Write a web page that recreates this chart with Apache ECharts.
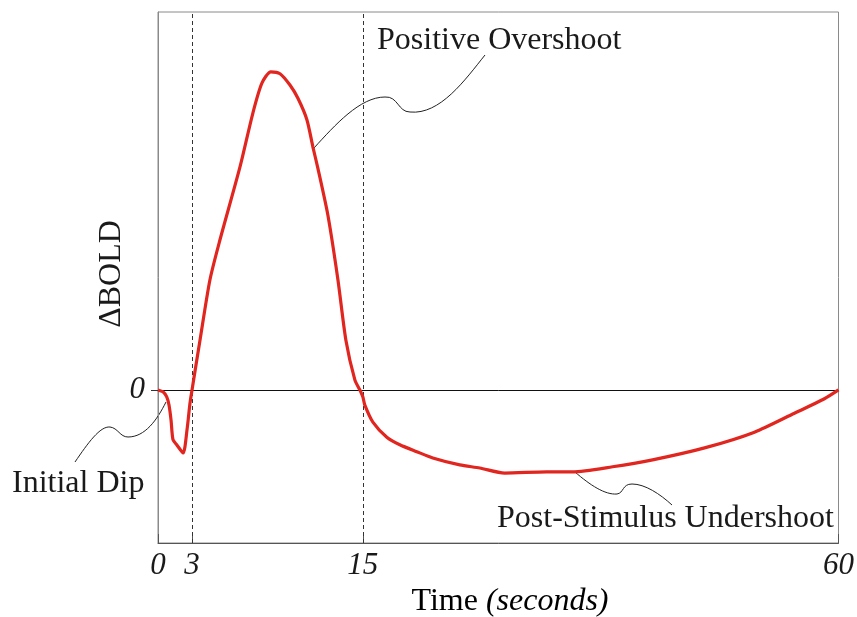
<!DOCTYPE html>
<html>
<head>
<meta charset="utf-8">
<script src="https://cdn.jsdelivr.net/npm/echarts@6/dist/echarts.min.js"></script>
<style>html,body{margin:0;padding:0;background:#fff}#c{width:857px;height:617px}</style>
</head>
<body>
<div id="c"></div>
<script>
// Time in seconds (schematic axis), ΔBOLD (arbitrary units)
const timeSec = [0, 0.44, 0.77, 0.97, 1.15, 1.32, 1.65, 2.21, 2.56, 2.82, 3.0, 3.56, 4.26, 4.96, 6.37, 7.28, 7.91, 8.54, 9.18, 9.88, 10.44, 11.07, 11.49, 11.84, 12.54, 13.25, 13.81, 14.44, 14.79, 15.0, 15.19, 15.95, 17.27, 18.5, 20.1, 21.62, 24.17, 26.06, 28.42, 32.39, 34.85, 38.63, 42.41, 47.33, 52.05, 55.83, 58.67, 60];
const bold = [0, -0.03, -0.11, -0.24, -0.48, -0.79, -0.87, -1.0, -0.63, -0.21, 0, 0.79, 1.75, 2.38, 3.54, 4.4, 4.87, 5.05, 5.02, 4.84, 4.63, 4.29, 3.86, 3.52, 2.78, 1.75, 0.79, 0.16, 0, -0.11, -0.24, -0.51, -0.75, -0.87, -0.98, -1.08, -1.19, -1.24, -1.32, -1.3, -1.3, -1.22, -1.11, -0.92, -0.67, -0.37, -0.14, 0];
const xTicks = [0, 3, 15, 60];
const markTimes = [3, 15];
const yTicks = [0];
// schematic (non-linear) time axis: breakpoints in seconds and their axis positions
const breakSec = [0, 3, 15, 60];
const breakPos = [0, 3.0, 18.06, 60];
function warp(s) {
  for (let i = 1; i < breakSec.length; i++) {
    if (s <= breakSec[i]) {
      const t = (s - breakSec[i-1]) / (breakSec[i] - breakSec[i-1]);
      return breakPos[i-1] + t * (breakPos[i] - breakPos[i-1]);
    }
  }
  return breakPos[breakPos.length-1];
}
const tickPos = xTicks.map(warp);
const data = timeSec.map((s, i) => [warp(s), bold[i]]);
const serif = '"Liberation Serif", "DejaVu Serif", serif';

const chart = echarts.init(document.getElementById('c'), null, {renderer: 'canvas'});
const option = {
  animation: false,
  backgroundColor: '#fff',
  grid: {left: 158, right: 18, top: 12, bottom: 74, show: true, borderColor: '#8a8a8a', borderWidth: 1},
  xAxis: {
    type: 'value', min: 0, max: 60,
    axisLine: {show: true, onZero: false, lineStyle: {color: '#555', width: 1}},
    axisTick: {show: true, inside: true, length: 9, customValues: tickPos, lineStyle: {color: '#555'}},
    axisLabel: {
      customValues: tickPos, margin: 7,
      fontFamily: serif, fontStyle: 'italic', fontSize: 31, color: '#1a1a1a',
      formatter: v => { const i = tickPos.findIndex(p => Math.abs(p - v) < 1e-6); return i >= 0 ? String(xTicks[i]) : ''; }
    },
    splitLine: {show: false}
  },
  yAxis: {
    type: 'value', min: -2.43, max: 6,
    axisLine: {show: true, onZero: false, lineStyle: {color: '#8a8a8a', width: 1}},
    axisTick: {show: true, inside: false, length: 7, customValues: yTicks, lineStyle: {color: '#333'}},
    axisLabel: {customValues: yTicks, margin: 13, fontFamily: serif, fontStyle: 'italic', fontSize: 31, color: '#1a1a1a'},
    splitLine: {show: false}
  },
  series: [{
    type: 'line', data: data, showSymbol: false, smooth: 0.25,
    lineStyle: {color: '#e1251f', width: 3.2},
    z: 5,
    markLine: {
      silent: true, symbol: 'none', label: {show: false},
      data: [
        {yAxis: 0, lineStyle: {color: '#111', type: 'solid', width: 1}},
        ...markTimes.map(t => ({xAxis: warp(t), lineStyle: {color: '#333', type: [4, 3], width: 1}}))
      ]
    }
  }],
  graphic: [
    {type: 'text', x: 112, y: 274, rotation: Math.PI/2,
     style: {text: 'ΔBOLD', font: '32px ' + serif, fill: '#1a1a1a', textAlign: 'center', textVerticalAlign: 'middle'}},
    {type: 'text', x: 510, y: 602,
     style: {text: '{n|Time }{i|(seconds)}', textAlign: 'center', textVerticalAlign: 'middle',
       rich: {n: {fontFamily: serif, fontSize: 32, color: '#1a1a1a'}, i: {fontFamily: serif, fontSize: 32, fontStyle: 'italic', color: '#1a1a1a'}}}},
    {type: 'text', x: 377, y: 41, style: {text: 'Positive Overshoot', font: '32px ' + serif, fill: '#1a1a1a', textAlign: 'left', textVerticalAlign: 'middle'}},
    {type: 'text', x: 12, y: 484, style: {text: 'Initial Dip', font: '32px ' + serif, fill: '#1a1a1a', textAlign: 'left', textVerticalAlign: 'middle'}},
    {type: 'text', x: 497, y: 519, style: {text: 'Post-Stimulus Undershoot', font: '32px ' + serif, fill: '#1a1a1a', textAlign: 'left', textVerticalAlign: 'middle'}},
    // leader lines
    {type: 'bezierCurve', shape: {x1: 75, y1: 462, cpx1: 88, cpy1: 443, cpx2: 100, cpy2: 426, x2: 110, y2: 427}, style: {stroke: '#222', lineWidth: 1, fill: 'none'}},
    {type: 'bezierCurve', shape: {x1: 110, y1: 427, cpx1: 118, cpy1: 428, cpx2: 120, cpy2: 437, x2: 128, y2: 437}, style: {stroke: '#222', lineWidth: 1, fill: 'none'}},
    {type: 'bezierCurve', shape: {x1: 128, y1: 437, cpx1: 145, cpy1: 437, cpx2: 157, cpy2: 420, x2: 166, y2: 402}, style: {stroke: '#222', lineWidth: 1, fill: 'none'}},
    {type: 'bezierCurve', shape: {x1: 314, y1: 148, cpx1: 335, cpy1: 125, cpx2: 360, cpy2: 97, x2: 385, y2: 97}, style: {stroke: '#222', lineWidth: 1, fill: 'none'}},
    {type: 'bezierCurve', shape: {x1: 385, y1: 97, cpx1: 398, cpy1: 96, cpx2: 398, cpy2: 112, x2: 410, y2: 112}, style: {stroke: '#222', lineWidth: 1, fill: 'none'}},
    {type: 'bezierCurve', shape: {x1: 410, y1: 112, cpx1: 440, cpy1: 115, cpx2: 465, cpy2: 80, x2: 485, y2: 55}, style: {stroke: '#222', lineWidth: 1, fill: 'none'}},
    {type: 'bezierCurve', shape: {x1: 575, y1: 472, cpx1: 590, cpy1: 485, cpx2: 605, cpy2: 495, x2: 617, y2: 494}, style: {stroke: '#222', lineWidth: 1, fill: 'none'}},
    {type: 'bezierCurve', shape: {x1: 617, y1: 494, cpx1: 624, cpy1: 493, cpx2: 622, cpy2: 484, x2: 632, y2: 484}, style: {stroke: '#222', lineWidth: 1, fill: 'none'}},
    {type: 'bezierCurve', shape: {x1: 632, y1: 484, cpx1: 645, cpy1: 484, cpx2: 660, cpy2: 494, x2: 672, y2: 505}, style: {stroke: '#222', lineWidth: 1, fill: 'none'}}
  ]
};
chart.setOption(option);
</script>
</body>
</html>
